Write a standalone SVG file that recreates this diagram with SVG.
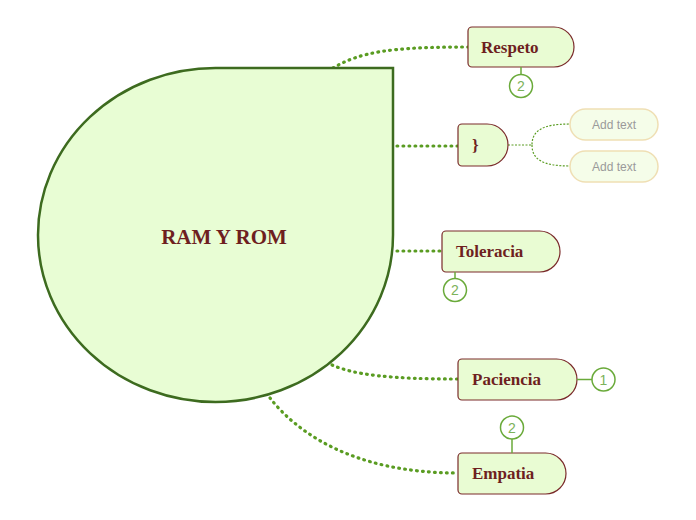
<svg xmlns="http://www.w3.org/2000/svg" width="696" height="520" viewBox="0 0 696 520">
<style>
.conn{fill:none;stroke:#5a9c22;stroke-width:3.2;stroke-dasharray:0.8 5.2;stroke-linecap:round}
.thin{fill:none;stroke:#5a9c22;stroke-width:1.2;stroke-dasharray:2 1.5}
.node{fill:#e9fcd3;stroke:#7a2a2a;stroke-width:1.2}
.lbl{font-family:"Liberation Serif",serif;font-weight:bold;font-size:17px;fill:#6e1f1f}
.add{fill:#f5fde9;stroke:#efdfb4;stroke-width:1.5}
.addt{font-family:"Liberation Sans Narrow","Liberation Sans",sans-serif;font-size:12px;fill:#9a9a9a;text-anchor:middle}
.badge{fill:#fff;stroke:#6aaa3a;stroke-width:1.5}
.bl{stroke:#6aaa3a;stroke-width:1.5}
.bt{font-family:"Liberation Sans",sans-serif;font-size:14px;fill:#7cb25a;text-anchor:middle}
</style>
<g id="connectors">
<path class="conn" d="M333,68 C360,52 390,47 468,47"/>
<path class="conn" d="M397,146 H458"/>
<path class="conn" d="M397,251 H442"/>
<path class="conn" d="M332,365 C355,375 390,379 458,379"/>
<path class="conn" d="M270,398 C295,430 350,473 458,473"/>
<path class="thin" d="M508,145 H532 C532,131 542,124 570,124"/>
<path class="thin" d="M532,145 C532,159 542,166 570,166"/>
</g>
<g id="center">
<path d="M215.5,68 H393 V235 A177.5,167 0 1 1 215.5,68 Z" fill="#e8fdd4" stroke="#3d6b1f" stroke-width="2.5"/>
<text x="224" y="244" font-family="Liberation Serif,serif" font-weight="bold" font-size="21" fill="#6e1f1f" text-anchor="middle">RAM Y ROM</text>
</g>
<g id="respeto">
<path class="node" d="M472,27 H554 A20,20 0 0 1 574,47 A20,20 0 0 1 554,67 H472 A4,4 0 0 1 468,63 V31 A4,4 0 0 1 472,27 Z"/>
<text class="lbl" x="481" y="53">Respeto</text>
<line class="bl" x1="521" y1="67" x2="521" y2="74"/>
<circle class="badge" cx="521" cy="86" r="11.5"/>
<text class="bt" x="521" y="91">2</text>
</g>
<g id="brace">
<path class="node" d="M462,124 H487 A21,21 0 0 1 508,145 A21,21 0 0 1 487,166 H462 A4,4 0 0 1 458,162 V128 A4,4 0 0 1 462,124 Z"/>
<text class="lbl" x="472" y="151">}</text>
</g>
<g id="add1">
<rect class="add" x="570" y="109" width="88" height="31" rx="15.5"/>
<text class="addt" x="614" y="129">Add text</text>
</g>
<g id="add2">
<rect class="add" x="570" y="151" width="88" height="31" rx="15.5"/>
<text class="addt" x="614" y="171">Add text</text>
</g>
<g id="toleracia">
<path class="node" d="M446,231 H539.5 A20.5,20.5 0 0 1 560,251.5 A20.5,20.5 0 0 1 539.5,272 H446 A4,4 0 0 1 442,268 V235 A4,4 0 0 1 446,231 Z"/>
<text class="lbl" x="456" y="257">Toleracia</text>
<line class="bl" x1="455" y1="272" x2="455" y2="278"/>
<circle class="badge" cx="455" cy="290" r="11.5"/>
<text class="bt" x="455" y="295">2</text>
</g>
<g id="paciencia">
<path class="node" d="M462,359 H556.5 A20.5,20.5 0 0 1 577,379.5 A20.5,20.5 0 0 1 556.5,400 H462 A4,4 0 0 1 458,396 V363 A4,4 0 0 1 462,359 Z"/>
<text class="lbl" x="472" y="385">Paciencia</text>
<line class="bl" x1="577" y1="379.5" x2="592" y2="379.5"/>
<circle class="badge" cx="603.5" cy="379.5" r="11.5"/>
<text class="bt" x="603.5" y="384.5">1</text>
</g>
<g id="empatia">
<path class="node" d="M462,453 H545.5 A20.5,20.5 0 0 1 566,473.5 A20.5,20.5 0 0 1 545.5,494 H462 A4,4 0 0 1 458,490 V457 A4,4 0 0 1 462,453 Z"/>
<text class="lbl" x="472" y="479">Empatia</text>
<line class="bl" x1="512" y1="439" x2="512" y2="453"/>
<circle class="badge" cx="512" cy="427.5" r="11.5"/>
<text class="bt" x="512" y="432.5">2</text>
</g>
</svg>
